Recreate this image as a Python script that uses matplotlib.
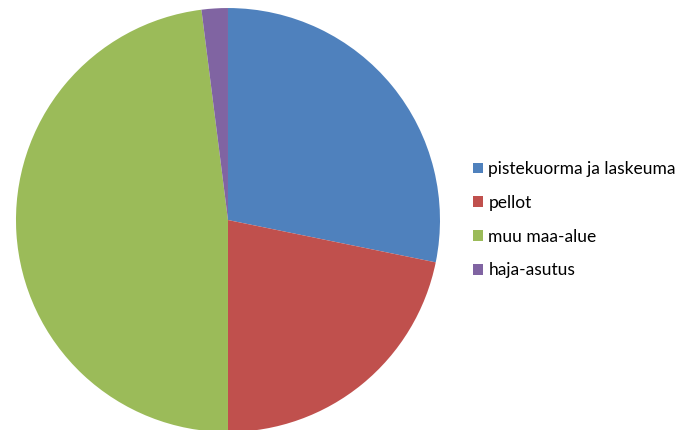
import matplotlib.pyplot as plt

labels = ['pistekuorma ja laskeuma', 'pellot', 'muu maa-alue', 'haja-asutus']
values = [28.2, 21.8, 48.0, 2.0]
colors = ['#4F81BD', '#C0504D', '#9BBB59', '#8064A2']

plt.rcParams['font.family'] = ['Lato', 'DejaVu Sans']

fig = plt.figure(figsize=(6.83, 4.30), dpi=100)
ax = fig.add_axes([0.0234, -0.0047, 0.6208, 0.986])
wedges, _ = ax.pie(values, colors=colors, startangle=90, counterclock=False,
                   wedgeprops=dict(linewidth=0))
ax.set_aspect('auto')
ax.set_xlim(-1, 1)
ax.set_ylim(-1, 1)

fig.legend(wedges, labels, loc='center left', bbox_to_anchor=(0.68, 0.489),
           frameon=False, fontsize=12.5, handlelength=0.58, handleheight=0.58,
           handletextpad=0.3, labelspacing=1.02, borderpad=0)

fig.savefig('out.png', dpi=100)
